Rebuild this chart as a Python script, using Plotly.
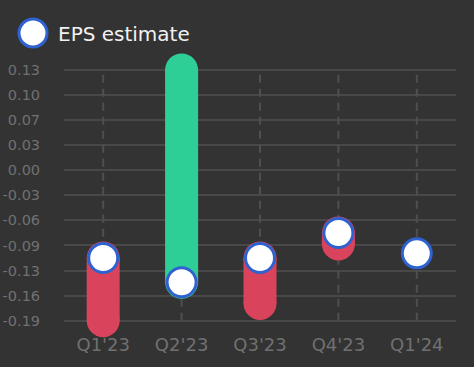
import plotly.graph_objects as go

categories = ["Q1'23", "Q2'23", "Q3'23", "Q4'23", "Q1'24"]
eps_estimate = [-0.11, -0.141, -0.11, -0.078, -0.104]
eps_actual = [-0.19, 0.13, -0.168, -0.092, None]
y_tick_values = [-0.19, -0.158, -0.126, -0.094, -0.062, -0.03, 0.002, 0.034, 0.066, 0.098, 0.13]
y_tick_labels = ["-0.19", "-0.16", "-0.13", "-0.09", "-0.06", "-0.03", "0.00", "0.03", "0.07", "0.10", "0.13"]

BG = "#333333"
GRID = "#484848"
TICK = "#707070"
RED = "#d9435b"
GREEN = "#2ecf96"
BLUE = "#2f62d0"
FONT = "DejaVu Sans"

fig = go.Figure()

# vertical dashed category guides spanning the tick range
vx, vy = [], []
for c in categories:
    vx += [c, c, None]
    vy += [y_tick_values[0], y_tick_values[-1], None]
fig.add_trace(go.Scatter(x=vx, y=vy, mode="lines", hoverinfo="skip",
                         line=dict(color="#4f4f4f", width=2, dash="8px,6px")))

# estimate -> actual bars with round caps
for c, e, a in zip(categories, eps_estimate, eps_actual):
    if a is None:
        continue
    col = GREEN if a >= e else RED
    fig.add_trace(go.Scatter(x=[c, c], y=[e, a], mode="lines+markers",
                             line=dict(color=col, width=33),
                             marker=dict(size=33, color=col, line=dict(width=0)),
                             cliponaxis=False, hoverinfo="skip"))

# estimate markers
fig.add_trace(go.Scatter(x=categories, y=eps_estimate, mode="markers", name="EPS estimate",
                         marker=dict(size=29, color="white", line=dict(color=BLUE, width=3)),
                         cliponaxis=False))

# custom legend
L, T, R, B = 64, 50, 18, 41
W, H = 474 - L - R, 367 - T - B
def px(xp):
    return (xp - L) / W
def py(yp):
    return (T + H - yp) / H

fig.add_shape(type="circle", xref="paper", yref="paper",
              xsizemode="pixel", ysizemode="pixel",
              xanchor=px(33), yanchor=py(33),
              x0=-14, x1=14, y0=-14, y1=14,
              fillcolor="white", line=dict(color=BLUE, width=3))
fig.add_annotation(text="EPS estimate", xref="paper", yref="paper",
                   x=px(56), y=py(34), xanchor="left", yanchor="middle",
                   showarrow=False, font=dict(family=FONT, size=20, color="#f2f2f2"))

fig.update_layout(
    width=474, height=367,
    paper_bgcolor=BG, plot_bgcolor=BG,
    margin=dict(l=L, r=R, t=T, b=B),
    showlegend=False,
    font=dict(family=FONT, color=TICK),
    xaxis=dict(type="category", range=[-0.5, 4.5], showgrid=False, zeroline=False,
               showline=False, ticks="outside", ticklen=2, tickcolor="rgba(0,0,0,0)",
               automargin=False,
               tickfont=dict(family=FONT, size=18, color=TICK)),
    yaxis=dict(range=[-0.19678, 0.15553], tickmode="array", tickvals=y_tick_values,
               ticktext=y_tick_labels, showgrid=True, gridcolor=GRID, gridwidth=2,
               zeroline=False, showline=False, ticks="outside", ticklen=20,
               tickcolor="rgba(0,0,0,0)", automargin=False,
               tickfont=dict(family=FONT, size=14.5, color=TICK)),
)

fig.write_html("out.html", config={"displayModeBar": False},
               post_script="document.body.style.margin='0';document.body.style.overflow='hidden';document.body.style.background='#333333';")
